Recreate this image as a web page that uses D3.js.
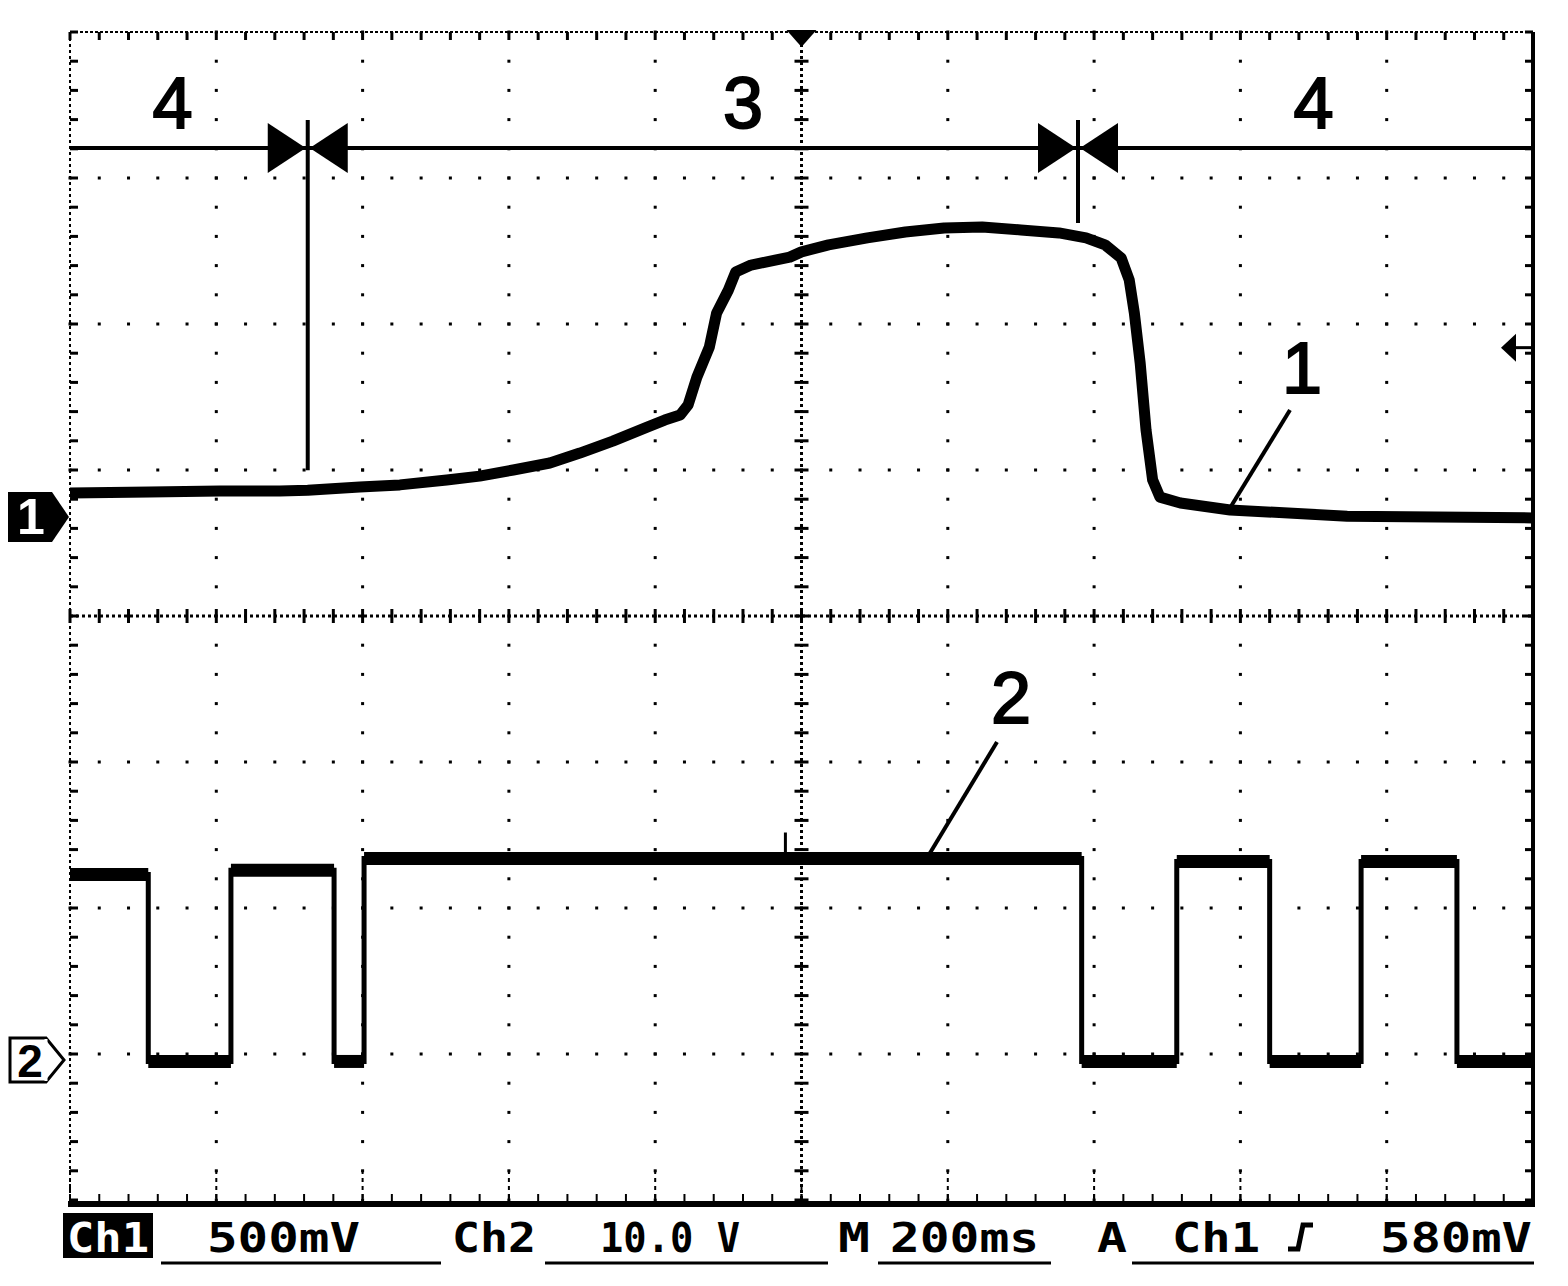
<!DOCTYPE html>
<html><head><meta charset="utf-8">
<script src="https://cdn.jsdelivr.net/npm/d3@7"></script>
<style>html,body{margin:0;padding:0;background:#fff;}svg{display:block;}</style>
</head><body>
<svg id="chart" width="1568" height="1286"></svg>
<script>
// ---- data ----
// Channel 1 (500 mV/div): time in ms, value in volts
const ch1Time = [-1000,-891,-795,-713,-675,-604,-549,-485,-440,-394,-344,-303,-258,-211,-187,-166,-155,-143,-126,-116,-100,-90,-69,-16,0,37,90,142,195,247,300,352,389,415,437,448,455,463,471,480,490,518,586,746,1000];
const ch1Volt = [0.082,0.086,0.089,0.089,0.092,0.103,0.110,0.127,0.140,0.161,0.185,0.219,0.260,0.308,0.332,0.349,0.384,0.479,0.582,0.699,0.777,0.839,0.863,0.890,0.908,0.932,0.956,0.976,0.990,0.993,0.983,0.973,0.956,0.932,0.887,0.812,0.699,0.527,0.298,0.127,0.068,0.048,0.024,0.003,-0.003];
// Channel 2 (10 V/div): edge times in ms and level of each segment in volts
const ch2EdgeTime = [-1000,-893,-780,-639,-598,383,513,640,765,896,1000];
const ch2Level = [12.7,-0.1,13.0,-0.1,13.8,-0.1,13.6,-0.1,13.6,-0.1];
// cursors (ms) and region labels
const cursorTime = [-675, 378];
const regionLabels = ["4","3","4"];
const regionLabelTime = [-860, -80, 700];
const traceLabels = ["1","2"];
const triggerLevel = 0.58; // V
const statusTexts = ["500mV","Ch2","10.0 V","M","200ms","A","Ch1","580mV"];

// ---- scales ----
const svg = d3.select("#chart");
const X0 = 70, X1 = 1533, Y0 = 32, Y1 = 1200;
const x = d3.scaleLinear().domain([-1000, 1000]).range([X0, X1]);
const yDiv = d3.scaleLinear().domain([-4, 4]).range([Y1, Y0]);
const ch1Offset = 0.678, ch1Scale = 0.5;   // divisions, V/div
const ch2Offset = -3.041, ch2Scale = 10;   // divisions, V/div
const y1 = v => yDiv(v / ch1Scale + ch1Offset);
const y2 = v => yDiv(v / ch2Scale + ch2Offset);

// ---- graticule ----
const g = svg.append("g");
const majX = d3.range(0, 11).map(i => -1000 + i * 200);
const majY = d3.range(-4, 5);
const minX = d3.range(0, 51).map(i => -1000 + i * 40);
const minY = d3.range(0, 41).map(i => -4 + i * 0.2);

majX.filter(t => t !== -1000 && t !== 0 && t !== 1000).forEach(t => {
  minY.forEach(d => g.append("rect").attr("x", x(t) - 1.5).attr("y", yDiv(d) - 1.5).attr("width", 3).attr("height", 3).attr("fill", "#000"));
});
majY.filter(d => d !== -4 && d !== 0 && d !== 4).forEach(d => {
  minX.forEach(t => g.append("rect").attr("x", x(t) - 1.5).attr("y", yDiv(d) - 1.5).attr("width", 3).attr("height", 3).attr("fill", "#000"));
});
g.append("line").attr("x1", x(0)).attr("x2", x(0)).attr("y1", Y0).attr("y2", Y1)
  .attr("stroke", "#000").attr("stroke-width", 3).attr("stroke-dasharray", "3,3");
g.append("line").attr("x1", X0).attr("x2", X1).attr("y1", yDiv(0)).attr("y2", yDiv(0))
  .attr("stroke", "#000").attr("stroke-width", 3).attr("stroke-dasharray", "3,3");
minY.forEach(d => g.append("line").attr("x1", x(0) - 7).attr("x2", x(0) + 7).attr("y1", yDiv(d)).attr("y2", yDiv(d)).attr("stroke", "#000").attr("stroke-width", 3));
minX.forEach(t => g.append("line").attr("x1", x(t)).attr("x2", x(t)).attr("y1", yDiv(0) - 7).attr("y2", yDiv(0) + 7).attr("stroke", "#000").attr("stroke-width", 3));
g.append("line").attr("x1", X0).attr("x2", X0).attr("y1", Y0).attr("y2", Y1 + 4)
  .attr("stroke", "#000").attr("stroke-width", 2).attr("stroke-dasharray", "3,3");
g.append("line").attr("x1", X0).attr("x2", X1).attr("y1", Y0).attr("y2", Y0)
  .attr("stroke", "#000").attr("stroke-width", 2).attr("stroke-dasharray", "3,2");
minY.forEach(d => g.append("line").attr("x1", X0).attr("x2", X0 + 8).attr("y1", yDiv(d)).attr("y2", yDiv(d)).attr("stroke", "#000").attr("stroke-width", 3));
minX.forEach(t => g.append("line").attr("x1", x(t)).attr("x2", x(t)).attr("y1", Y0).attr("y2", Y0 + 8).attr("stroke", "#000").attr("stroke-width", 3));
g.append("line").attr("x1", X1).attr("x2", X1).attr("y1", Y0).attr("y2", Y1 + 6).attr("stroke", "#000").attr("stroke-width", 4);
minY.forEach(d => g.append("line").attr("x1", X1 - 8).attr("x2", X1).attr("y1", yDiv(d)).attr("y2", yDiv(d)).attr("stroke", "#000").attr("stroke-width", 3));
g.append("line").attr("x1", X0 - 2).attr("x2", X1 + 2).attr("y1", Y1 + 4).attr("y2", Y1 + 4).attr("stroke", "#000").attr("stroke-width", 6);
minX.forEach(t => g.append("line").attr("x1", x(t)).attr("x2", x(t)).attr("y1", Y1 - 6).attr("y2", Y1 + 2).attr("stroke", "#000").attr("stroke-width", 2));
majX.forEach(t => g.append("line").attr("x1", x(t)).attr("x2", x(t)).attr("y1", Y1 - 30).attr("y2", Y1 + 2).attr("stroke", "#000").attr("stroke-width", 2).attr("stroke-dasharray", "4,4"));

// ---- traces ----
const ch1Data = ch1Time.map((t, i) => [t, ch1Volt[i]]);
svg.append("path").datum(ch1Data)
  .attr("d", d3.line().x(d => x(d[0])).y(d => y1(d[1])).curve(d3.curveLinear))
  .attr("fill", "none").attr("stroke", "#000").attr("stroke-width", 11).attr("stroke-linejoin", "round");

const ch2Data = ch2Level.map((v, i) => [ch2EdgeTime[i], v]);
ch2Data.push([ch2EdgeTime[ch2EdgeTime.length - 1], ch2Level[ch2Level.length - 1]]);
svg.append("path").datum(ch2Data)
  .attr("d", d3.line().x(d => x(d[0])).y(d => y2(d[1])).curve(d3.curveStepAfter))
  .attr("fill", "none").attr("stroke", "#000").attr("stroke-width", 5);
ch2Level.forEach((v, i) => {
  svg.append("line").attr("x1", x(ch2EdgeTime[i])).attr("x2", x(ch2EdgeTime[i + 1]))
    .attr("y1", y2(v)).attr("y2", y2(v)).attr("stroke", "#000").attr("stroke-width", 13);
});
svg.append("line").attr("x1", x(-22)).attr("x2", x(-22)).attr("y1", y2(13.8) - 26).attr("y2", y2(13.8))
  .attr("stroke", "#000").attr("stroke-width", 3);

// ---- region annotation ----
const ann = svg.append("g");
const barY = 148;
ann.append("line").attr("x1", X0).attr("x2", X1).attr("y1", barY).attr("y2", barY).attr("stroke", "#000").attr("stroke-width", 4);
const cursorBottoms = [y1(0.092) - 20, 223];
cursorTime.forEach((t, i) => {
  const cx = x(t);
  ann.append("line").attr("x1", cx).attr("x2", cx).attr("y1", 120).attr("y2", cursorBottoms[i]).attr("stroke", "#000").attr("stroke-width", 4);
  ann.append("path").attr("d", `M${cx - 40},${barY - 25} L${cx - 2},${barY} L${cx - 40},${barY + 25} Z`).attr("fill", "#000");
  ann.append("path").attr("d", `M${cx + 40},${barY - 25} L${cx + 2},${barY} L${cx + 40},${barY + 25} Z`).attr("fill", "#000");
});
const labelFont = "Liberation Sans, Arial, sans-serif";
regionLabels.forEach((s, i) => {
  ann.append("text").attr("x", x(regionLabelTime[i])).attr("y", 128).attr("text-anchor", "middle")
    .attr("font-family", labelFont).attr("font-size", 72).attr("stroke", "#000").attr("stroke-width", 2).text(s);
});
ann.append("text").attr("x", 1302).attr("y", 393).attr("text-anchor", "middle")
  .attr("font-family", labelFont).attr("font-size", 72).attr("stroke", "#000").attr("stroke-width", 2).text(traceLabels[0]);
ann.append("line").attr("x1", 1290).attr("y1", 410).attr("x2", 1230).attr("y2", 508).attr("stroke", "#000").attr("stroke-width", 4);
ann.append("text").attr("x", 1011).attr("y", 723).attr("text-anchor", "middle")
  .attr("font-family", labelFont).attr("font-size", 72).attr("stroke", "#000").attr("stroke-width", 2).text(traceLabels[1]);
ann.append("line").attr("x1", 997).attr("y1", 742).attr("x2", 930).attr("y2", 853).attr("stroke", "#000").attr("stroke-width", 4);

const ty = y1(triggerLevel);
ann.append("path").attr("d", `M${X1 - 32},${ty} L${X1 - 17},${ty - 14} L${X1 - 17},${ty + 14} Z`).attr("fill", "#000");
ann.append("line").attr("x1", X1 - 18).attr("x2", X1).attr("y1", ty).attr("y2", ty).attr("stroke", "#000").attr("stroke-width", 3);
ann.append("path").attr("d", `M${x(0) - 15},${Y0 - 2} L${x(0) + 15},${Y0 - 2} L${x(0)},${Y0 + 15} Z`).attr("fill", "#000");

const m1 = y1(0);
ann.append("path").attr("d", `M8,${m1 - 25} L52,${m1 - 25} L69,${m1} L52,${m1 + 25} L8,${m1 + 25} Z`).attr("fill", "#000");
ann.append("text").attr("x", 31).attr("y", m1 + 17).attr("text-anchor", "middle").attr("fill", "#fff")
  .attr("font-family", labelFont).attr("font-weight", "bold").attr("font-size", 50).text("1");
const m2 = y2(0);
ann.append("path").attr("d", `M10,${m2 - 22} L46,${m2 - 22} L64,${m2} L46,${m2 + 22} L10,${m2 + 22} Z`)
  .attr("fill", "#fff").attr("stroke", "#000").attr("stroke-width", 3);
ann.append("line").attr("x1", 46).attr("x2", 46).attr("y1", m2 - 21).attr("y2", m2 + 21).attr("stroke", "#fff").attr("stroke-width", 3);
ann.append("text").attr("x", 30).attr("y", m2 + 17).attr("text-anchor", "middle").attr("fill", "#000")
  .attr("font-family", labelFont).attr("font-weight", "bold").attr("font-size", 46).text("2");

// ---- status bar ----
const sb = svg.append("g").attr("font-family", "DejaVu Sans Mono, monospace").attr("font-weight", "bold").attr("font-size", 40);
sb.append("rect").attr("x", 63).attr("y", 1213).attr("width", 90).attr("height", 45).attr("fill", "#000");
sb.append("text").attr("x", 67).attr("y", 1252).attr("fill", "#fff").attr("textLength", 82).attr("lengthAdjust", "spacingAndGlyphs").text("Ch1");
const statusPos = [[207,153],[452,84],[600,140],[838,32],[890,149],[1097,30],[1172,88],[1380,152]];
statusTexts.forEach((s, i) => {
  sb.append("text").attr("x", statusPos[i][0]).attr("y", 1252).attr("fill", "#000")
    .attr("textLength", statusPos[i][1]).attr("lengthAdjust", "spacingAndGlyphs").text(s);
});
sb.append("path").attr("d", "M1288,1249 L1298,1249 L1303,1225 L1313,1225").attr("fill", "none").attr("stroke", "#000").attr("stroke-width", 5);
[[161,441],[545,828],[878,1051],[1132,1534]].forEach(u => {
  sb.append("line").attr("x1", u[0]).attr("x2", u[1]).attr("y1", 1263).attr("y2", 1263).attr("stroke", "#000").attr("stroke-width", 3);
});
</script>
</body></html>
